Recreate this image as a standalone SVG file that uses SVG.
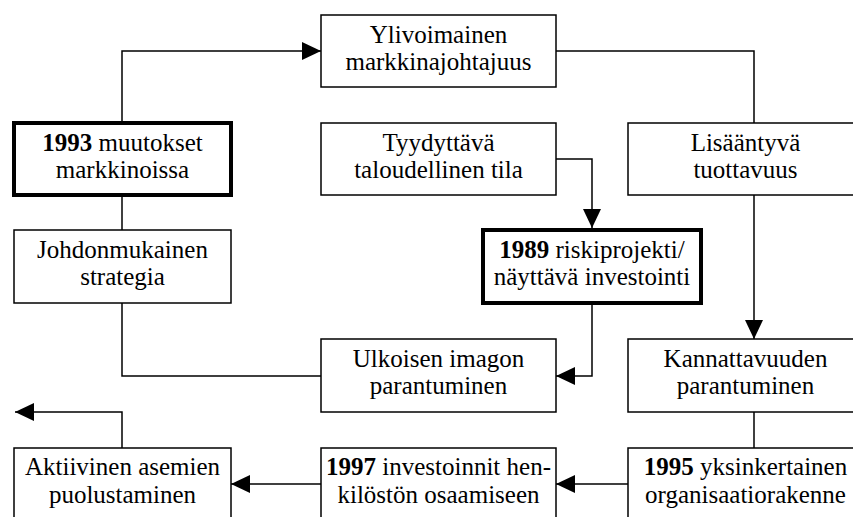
<svg xmlns="http://www.w3.org/2000/svg" width="853" height="517" viewBox="0 0 853 517">
<defs>
<marker id="ah" markerUnits="userSpaceOnUse" markerWidth="20" markerHeight="20" refX="19" refY="9" orient="auto">
<path d="M0,0 L19,9 L0,18 z" fill="#000"/>
</marker>
<style>
.box{fill:#fff;stroke:#000;stroke-width:1.5}
.thick{fill:#fff;stroke:#000;stroke-width:4}
.t{font-size:25px;fill:#000;text-anchor:middle}
.b{font-weight:bold}
.c{fill:none;stroke:#000;stroke-width:1.5}
.a{marker-end:url(#ah)}
</style>
</defs>
<rect width="853" height="517" fill="#fff"/>
<g id="connectors">
<path class="c a" d="M122,121 V51 H321"/>
<path class="c" d="M556,51 H754 V123"/>
<path class="c" d="M122,196 V230"/>
<path class="c a" d="M556,159 H592 V228"/>
<path class="c a" d="M754,195 V339"/>
<path class="c a" d="M592,305 V376 H556"/>
<path class="c" d="M122,303 V376 H321"/>
<path class="c" d="M754,412 V448"/>
<path class="c a" d="M628,484 H556"/>
<path class="c a" d="M321,484 H231"/>
<path class="c a" d="M122,448 V412 H15"/>
</g>
<g font-family="'Liberation Serif', 'Times New Roman', 'DejaVu Serif', serif">
<g id="ylivoimainen">
<rect class="box" x="321" y="15" width="235" height="72"/>
<text class="t" x="438.5" y="43">Ylivoimainen</text>
<text class="t" x="438.5" y="70">markkinajohtajuus</text>
</g>
<g id="muutokset1993">
<rect class="thick" x="14" y="123" width="217" height="72"/>
<text class="t" x="122.5" y="151"><tspan class="b">1993</tspan> muutokset</text>
<text class="t" x="122.5" y="178">markkinoissa</text>
</g>
<g id="tyydyttava">
<rect class="box" x="321" y="123" width="235" height="72"/>
<text class="t" x="438.5" y="151">Tyydyttävä</text>
<text class="t" x="438.5" y="178">taloudellinen tila</text>
</g>
<g id="lisaantyva">
<rect class="box" x="628" y="123" width="235" height="72"/>
<text class="t" x="745.5" y="151">Lisääntyvä</text>
<text class="t" x="745.5" y="178">tuottavuus</text>
</g>
<g id="johdonmukainen">
<rect class="box" x="14" y="230" width="217" height="73"/>
<text class="t" x="122.5" y="258">Johdonmukainen</text>
<text class="t" x="122.5" y="285">strategia</text>
</g>
<g id="riskiprojekti1989">
<rect class="thick" x="483" y="230" width="218" height="73"/>
<text class="t" x="592" y="258"><tspan class="b">1989</tspan> riskiprojekti/</text>
<text class="t" x="592" y="285">näyttävä investointi</text>
</g>
<g id="ulkoisen">
<rect class="box" x="321" y="339" width="235" height="73"/>
<text class="t" x="438.5" y="367">Ulkoisen imagon</text>
<text class="t" x="438.5" y="394">parantuminen</text>
</g>
<g id="kannattavuuden">
<rect class="box" x="628" y="339" width="235" height="73"/>
<text class="t" x="745.5" y="367">Kannattavuuden</text>
<text class="t" x="745.5" y="394">parantuminen</text>
</g>
<g id="aktiivinen">
<rect class="box" x="14" y="448" width="217" height="80"/>
<text class="t" x="122.5" y="475">Aktiivinen asemien</text>
<text class="t" x="122.5" y="503">puolustaminen</text>
</g>
<g id="investoinnit1997">
<rect class="box" x="321" y="448" width="235" height="80"/>
<text class="t" x="438.5" y="475"><tspan class="b">1997</tspan> investoinnit hen-</text>
<text class="t" x="438.5" y="503">kilöstön osaamiseen</text>
</g>
<g id="organisaatio1995">
<rect class="box" x="628" y="448" width="235" height="80"/>
<text class="t" x="745.5" y="475"><tspan class="b">1995</tspan> yksinkertainen</text>
<text class="t" x="745.5" y="503">organisaatiorakenne</text>
</g>
</g>
</svg>
